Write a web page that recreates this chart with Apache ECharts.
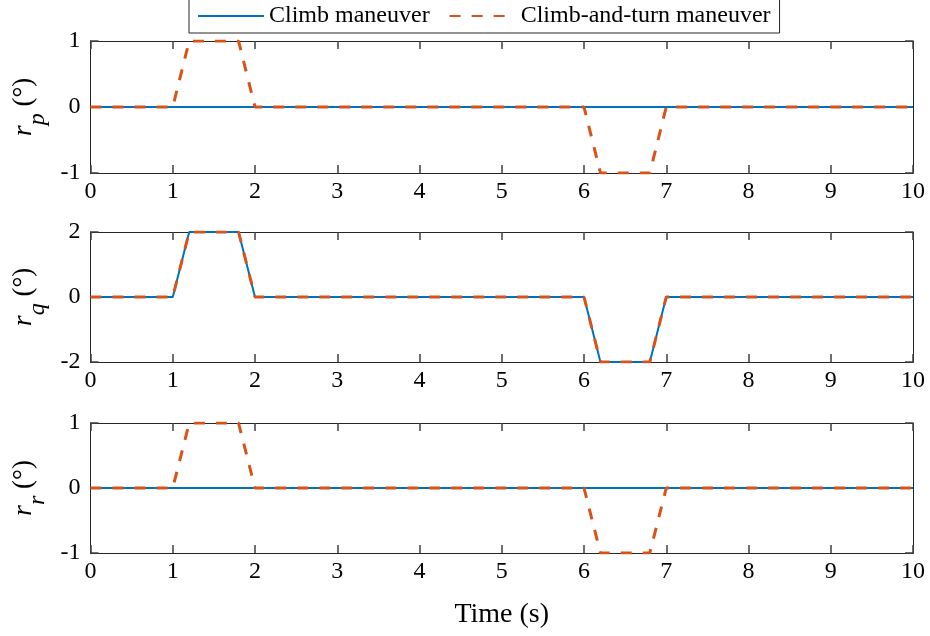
<!DOCTYPE html>
<html>
<head>
<meta charset="utf-8">
<script src="https://cdn.jsdelivr.net/npm/echarts@6/dist/echarts.min.js"></script>
<style>html,body{margin:0;padding:0;background:#fff}#c{width:930px;height:636px}</style>
</head>
<body>
<div id="c"></div>
<script>
// Data
const time = [0, 1, 1.2, 1.8, 2, 6, 6.2, 6.8, 7, 10];
const climbP = [0, 0, 0, 0, 0, 0, 0, 0, 0, 0];
const turnP  = [0, 0, 1, 1, 0, 0, -1, -1, 0, 0];
const climbQ = [0, 0, 2, 2, 0, 0, -2, -2, 0, 0];
const turnQ  = [0, 0, 2, 2, 0, 0, -2, -2, 0, 0];
const climbR = [0, 0, 0, 0, 0, 0, 0, 0, 0, 0];
const turnR  = [0, 0, 1, 1, 0, 0, -1, -1, 0, 0];
const seriesNames = ['Climb maneuver', 'Climb-and-turn maneuver'];
const subs = ['p', 'q', 'r'];
const yLimits = [[-1, 1, 1], [-2, 2, 2], [-1, 1, 1]];
const xTicks = [0, 10, 1];

const FONT = 'Liberation Serif';
const AX = '#262626';
const TICK = '#404040';
const BLUE = '#0072BD';
const ORANGE = '#D95319';

const pairs = (xs, ys) => xs.map((x, i) => [x, ys[i]]);
const data = [[climbP, turnP], [climbQ, turnQ], [climbR, turnR]];

const grids = [
  {left: 90.5, right: 17, top: 41, height: 132},
  {left: 90.5, right: 17, top: 232, height: 130},
  {left: 90.5, right: 17, top: 423, height: 130}
];

const lineAx = () => ({show: true, onZero: false, lineStyle: {color: AX, width: 1}});
const tickAx = () => ({show: true, inside: true, length: 8, lineStyle: {color: TICK, width: 1.5}});

const tickOnlyX = (i, pos) => ({
  type: 'value', gridIndex: i, min: xTicks[0], max: xTicks[1], interval: xTicks[2],
  position: pos, axisLine: lineAx(), axisTick: tickAx(),
  splitLine: {show: false}, axisLabel: {show: false}
});
const tickOnlyY = (i, pos) => ({
  type: 'value', gridIndex: i, min: yLimits[i][0], max: yLimits[i][1], interval: yLimits[i][2],
  position: pos, axisLine: lineAx(), axisTick: tickAx(),
  splitLine: {show: false}, axisLabel: {show: false}
});

const xAxes = [], yAxes = [], series = [];
grids.forEach((g, i) => {
  xAxes.push({
    type: 'value', gridIndex: i, min: xTicks[0], max: xTicks[1], interval: xTicks[2],
    position: 'bottom',
    axisLine: lineAx(), axisTick: tickAx(),
    splitLine: {show: false},
    axisLabel: {color: '#000', fontFamily: FONT, fontSize: 24, margin: 7},
    name: i === 2 ? 'Time (s)' : '', nameLocation: 'middle', nameGap: 48,
    nameTextStyle: {color: '#000', fontFamily: FONT, fontSize: 28}
  });
  xAxes.push(tickOnlyX(i, 'top'));
  xAxes.push(tickOnlyX(i, 'bottom'));
  const [mn, mx, iv] = yLimits[i];
  yAxes.push({
    type: 'value', gridIndex: i, min: mn, max: mx, interval: iv, position: 'left',
    axisLine: lineAx(), axisTick: tickAx(),
    splitLine: {show: false},
    axisLabel: {color: '#000', fontFamily: FONT, fontSize: 24, margin: 10,
      formatter: v => (v < 0 ? '-' + Math.abs(v) : String(v))},
    name: '{r|r}{s|' + subs[i] + '}{t| (°)}',
    nameLocation: 'middle', nameGap: 39, nameRotate: 90,
    nameTextStyle: {
      rich: {
        r: {fontFamily: FONT, fontStyle: 'italic', fontSize: 28, color: '#000', padding: [0, 0, 13, 0]},
        s: {fontFamily: FONT, fontStyle: 'italic', fontSize: 24, color: '#000', padding: [15, 0, 0, 0]},
        t: {fontFamily: FONT, fontSize: 27, color: '#000', padding: [0, 0, 13, 0]}
      }
    }
  });
  yAxes.push(tickOnlyY(i, 'right'));
  yAxes.push(tickOnlyY(i, 'left'));
  series.push({
    name: seriesNames[0], type: 'line', xAxisIndex: 3 * i, yAxisIndex: 3 * i,
    data: pairs(time, data[i][0]), showSymbol: false, symbol: 'none',
    lineStyle: {color: BLUE, width: 2}, itemStyle: {color: BLUE}
  });
  series.push({
    name: seriesNames[1], type: 'line', xAxisIndex: 3 * i, yAxisIndex: 3 * i,
    data: pairs(time, data[i][1]), showSymbol: false, symbol: 'none',
    lineStyle: {color: ORANGE, width: 3, type: [11, 11]}, itemStyle: {color: ORANGE}
  });
});

const chart = echarts.init(document.getElementById('c'));
chart.setOption({
  animation: false,
  grid: grids,
  xAxis: xAxes,
  yAxis: yAxes,
  legend: {
    data: seriesNames, left: 189, top: -1,
    backgroundColor: '#fff', borderColor: AX, borderWidth: 1,
    padding: [5, 9, 5, 8], itemWidth: 66, itemHeight: 14, itemGap: 19,
    itemStyle: {opacity: 0},
    textStyle: {color: '#000', fontFamily: FONT, fontSize: 24}
  },
  series: series
});
</script>
</body>
</html>
